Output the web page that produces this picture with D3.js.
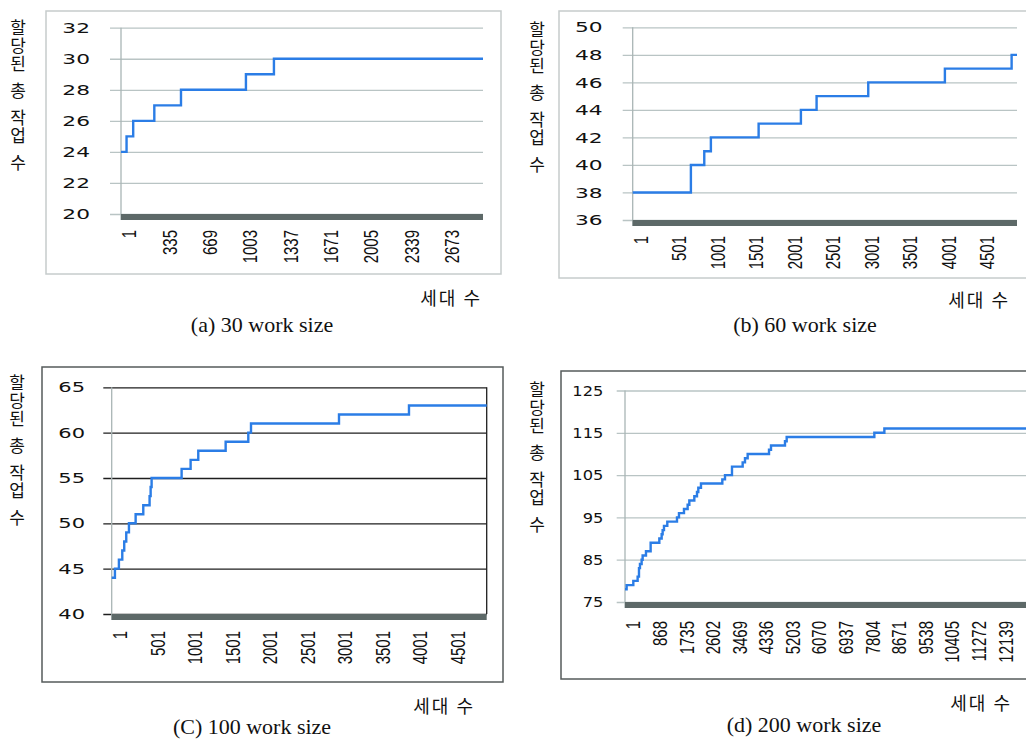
<!DOCTYPE html>
<html>
<head>
<meta charset="utf-8">
<script src="https://cdn.jsdelivr.net/npm/d3@7"></script>
<style>
  body { margin: 0; background: #fff; }
</style>
</head>
<body>
<svg id="chart" width="1026" height="740"></svg>
<script>
// generation at which the best count changes, and the count from there on
const gensA = [1, 47, 102, 277, 498, 1036, 1268, 3000];
const valsA = [24, 25, 26, 27, 28, 29, 30, 30];

const gensB = [1, 758, 932, 1018, 1639, 2189, 2393, 3065, 4062, 4930, 5000];
const valsB = [38, 40, 41, 42, 43, 44, 45, 46, 47, 48, 48];

const gensC = [1, 44, 97, 142, 168, 195, 231, 320, 422, 506, 520, 533, 933, 1053, 1155, 1520, 1822, 1858, 3031, 3964, 5000];
const valsC = [44, 45, 46, 47, 48, 49, 50, 51, 52, 53, 54, 55, 56, 57, 58, 59, 60, 61, 62, 63, 63];

const gensD = [1, 54, 272, 413, 457, 489, 543, 576, 685, 837, 1120, 1196, 1228, 1272, 1380, 1696, 1761, 1924, 2043, 2098,
               2261, 2348, 2391, 2478, 3174, 3261, 3489, 3837, 3913, 4000, 4696, 4761, 5217, 5272, 8130, 8457, 13205];
const valsD = [78, 79, 80, 81, 83, 84, 85, 86, 87, 89, 90, 91, 92, 93, 94, 95, 96, 97, 98, 99,
               100, 101, 102, 103, 104, 105, 107, 108, 109, 110, 111, 112, 113, 114, 115, 116, 116];

const xTicksA = [1, 335, 669, 1003, 1337, 1671, 2005, 2339, 2673];
const xTicksB = [1, 501, 1001, 1501, 2001, 2501, 3001, 3501, 4001, 4501];
const xTicksC = [1, 501, 1001, 1501, 2001, 2501, 3001, 3501, 4001, 4501];
const xTicksD = [1, 868, 1735, 2602, 3469, 4336, 5203, 6070, 6937, 7804, 8671, 9538, 10405, 11272, 12139];

const yTicksA = [20, 22, 24, 26, 28, 30, 32];
const yTicksB = [36, 38, 40, 42, 44, 46, 48, 50];
const yTicksC = [40, 45, 50, 55, 60, 65];
const yTicksD = [75, 85, 95, 105, 115, 125];

const yTitleWords = ['할당된', '총', '작업', '수'];
const xTitle = '세대 수';
const captions = ['(a) 30 work size', '(b) 60 work size', '(C) 100 work size', '(d) 200 work size'];

const svg = d3.select('#chart');
const lineColor = '#2b7de6';
const barColor = '#5d6968';

const panels = [
  { gens: gensA, vals: valsA, xTicks: xTicksA, yTicks: yTicksA, caption: captions[0],
    box: [46, 11, 501, 274], boxColor: '#c6cccc', gridColor: '#b9c4c4',
    x0: 121, x1: 483, gridStart: 110, yTop: 27.7, yBottom: 214, xDomain: [1, 3000],
    labelRight: 90, sx: 1.5, labelGap: 10, titleX: 18, titleY: 19,
    xTitleRight: 482, xTitleY: 305, capX: 262, capY: 332 },
  { gens: gensB, vals: valsB, xTicks: xTicksB, yTicks: yTicksB, caption: captions[1],
    box: [559, 11, 1040, 278], boxColor: '#c6cccc', gridColor: '#b9c4c4',
    x0: 632.7, x1: 1017, gridStart: 622.7, yTop: 27.3, yBottom: 220, xDomain: [1, 5000],
    labelRight: 602.7, sx: 1.5, labelGap: 10, titleX: 537, titleY: 21,
    xTitleRight: 1010, xTitleY: 307, capX: 805, capY: 332 },
  { gens: gensC, vals: valsC, xTicks: xTicksC, yTicks: yTicksC, caption: captions[2],
    box: [42, 367, 503, 682], boxColor: '#555b5b', gridColor: '#1e1e1e', frame: true,
    x0: 111.7, x1: 486.7, gridStart: 103.3, yTop: 387.3, yBottom: 614, xDomain: [1, 5000],
    labelRight: 85, sx: 1.45, labelGap: 11, titleX: 17, titleY: 374,
    xTitleRight: 475, xTitleY: 713, capX: 252, capY: 734 },
  { gens: gensD, vals: valsD, xTicks: xTicksD, yTicks: yTicksD, caption: captions[3],
    box: [561, 371, 1040, 679], boxColor: '#555b5b', gridColor: '#b9c4c4',
    x0: 625, x1: 1030, gridStart: 616.7, yTop: 390.5, yBottom: 602, xDomain: [1, 13205],
    labelRight: 603.3, sx: 1.12, labelGap: 13, titleX: 537, titleY: 381,
    xTitleRight: 1012, xTitleY: 710, capX: 804, capY: 732 }
];

function drawPanel(p) {
  const g = svg.append('g');
  const yMin = p.yTicks[0], yMax = p.yTicks[p.yTicks.length - 1];

  g.append('rect')
    .attr('x', p.box[0]).attr('y', p.box[1])
    .attr('width', p.box[2] - p.box[0]).attr('height', p.box[3] - p.box[1])
    .attr('fill', 'none').attr('stroke', p.boxColor).attr('stroke-width', 1.5);

  const x = d3.scaleLinear().domain(p.xDomain).range([p.x0, p.x1]);
  const y = d3.scaleLinear().domain([yMin, yMax]).range([p.yBottom, p.yTop]);

  // y axis: ticks double as the gridlines
  const yAxis = g.append('g')
    .attr('transform', `translate(${p.gridStart},0)`)
    .call(d3.axisLeft(y).tickValues(p.yTicks).tickSize(-(p.x1 - p.gridStart)).tickFormat(d3.format('d')));
  yAxis.select('.domain').remove();
  yAxis.selectAll('.tick line').attr('stroke', p.gridColor).attr('stroke-width', 1.3);
  yAxis.selectAll('.tick text')
    .attr('x', (p.labelRight - p.gridStart) / p.sx)
    .attr('transform', `scale(${p.sx},1)`)
    .attr('text-anchor', 'end')
    .attr('fill', '#111')
    .style('font-family', '"DejaVu Sans", sans-serif')
    .style('font-size', '14.5px');

  if (p.frame) {
    g.append('line')
      .attr('x1', p.x1).attr('x2', p.x1).attr('y1', y(yMax)).attr('y2', y(yMin))
      .attr('stroke', p.gridColor).attr('stroke-width', 1.3);
  }

  g.append('line')
    .attr('x1', p.x0).attr('x2', p.x0).attr('y1', y(yMax)).attr('y2', y(yMin) + 6)
    .attr('stroke', '#a9b5b5').attr('stroke-width', 1.3);

  g.append('rect')
    .attr('x', p.x0).attr('y', y(yMin))
    .attr('width', p.x1 - p.x0).attr('height', 6)
    .attr('fill', barColor);

  // x axis, labels turned to read bottom-up
  const xAxis = g.append('g')
    .attr('transform', `translate(0,${y(yMin) + 6})`)
    .call(d3.axisBottom(x).tickValues(p.xTicks).tickSize(0).tickFormat(d3.format('d')));
  xAxis.select('.domain').remove();
  xAxis.selectAll('.tick text')
    .attr('x', 0).attr('y', 0).attr('dy', '0.35em')
    .attr('transform', `translate(8,${p.labelGap}) rotate(-90) scale(1,1.3)`)
    .attr('text-anchor', 'end')
    .attr('fill', '#111')
    .style('font-family', '"Liberation Sans", Arial, sans-serif')
    .style('font-size', '15px');

  const line = d3.line()
    .x(d => x(d[0]))
    .y(d => y(d[1]))
    .curve(d3.curveStepAfter);
  g.append('path')
    .datum(d3.zip(p.gens, p.vals))
    .attr('d', line)
    .attr('fill', 'none')
    .attr('stroke', lineColor)
    .attr('stroke-width', 2.4);

  // vertical title, upright characters stacked top to bottom
  let cy = p.titleY;
  yTitleWords.forEach(w => {
    g.append('text')
      .attr('x', p.titleX).attr('y', cy)
      .attr('fill', '#111')
      .style('writing-mode', 'vertical-rl')
      .style('text-orientation', 'upright')
      .style('letter-spacing', '1px')
      .style('font-family', '"Noto Sans CJK KR", sans-serif')
      .style('font-size', '17px')
      .text(w);
    cy += w.length * 18 + 9;
  });

  g.append('text')
    .attr('x', p.xTitleRight).attr('y', p.xTitleY)
    .attr('text-anchor', 'end')
    .attr('fill', '#111')
    .style('font-family', '"Noto Sans CJK KR", sans-serif')
    .style('font-size', '18px')
    .style('letter-spacing', '2px')
    .text(xTitle);

  g.append('text')
    .attr('x', p.capX).attr('y', p.capY)
    .attr('text-anchor', 'middle')
    .attr('fill', '#111')
    .style('font-family', '"Liberation Serif", "Times New Roman", serif')
    .style('font-size', '22px')
    .text(p.caption);
}

panels.forEach(drawPanel);
</script>
</body>
</html>
